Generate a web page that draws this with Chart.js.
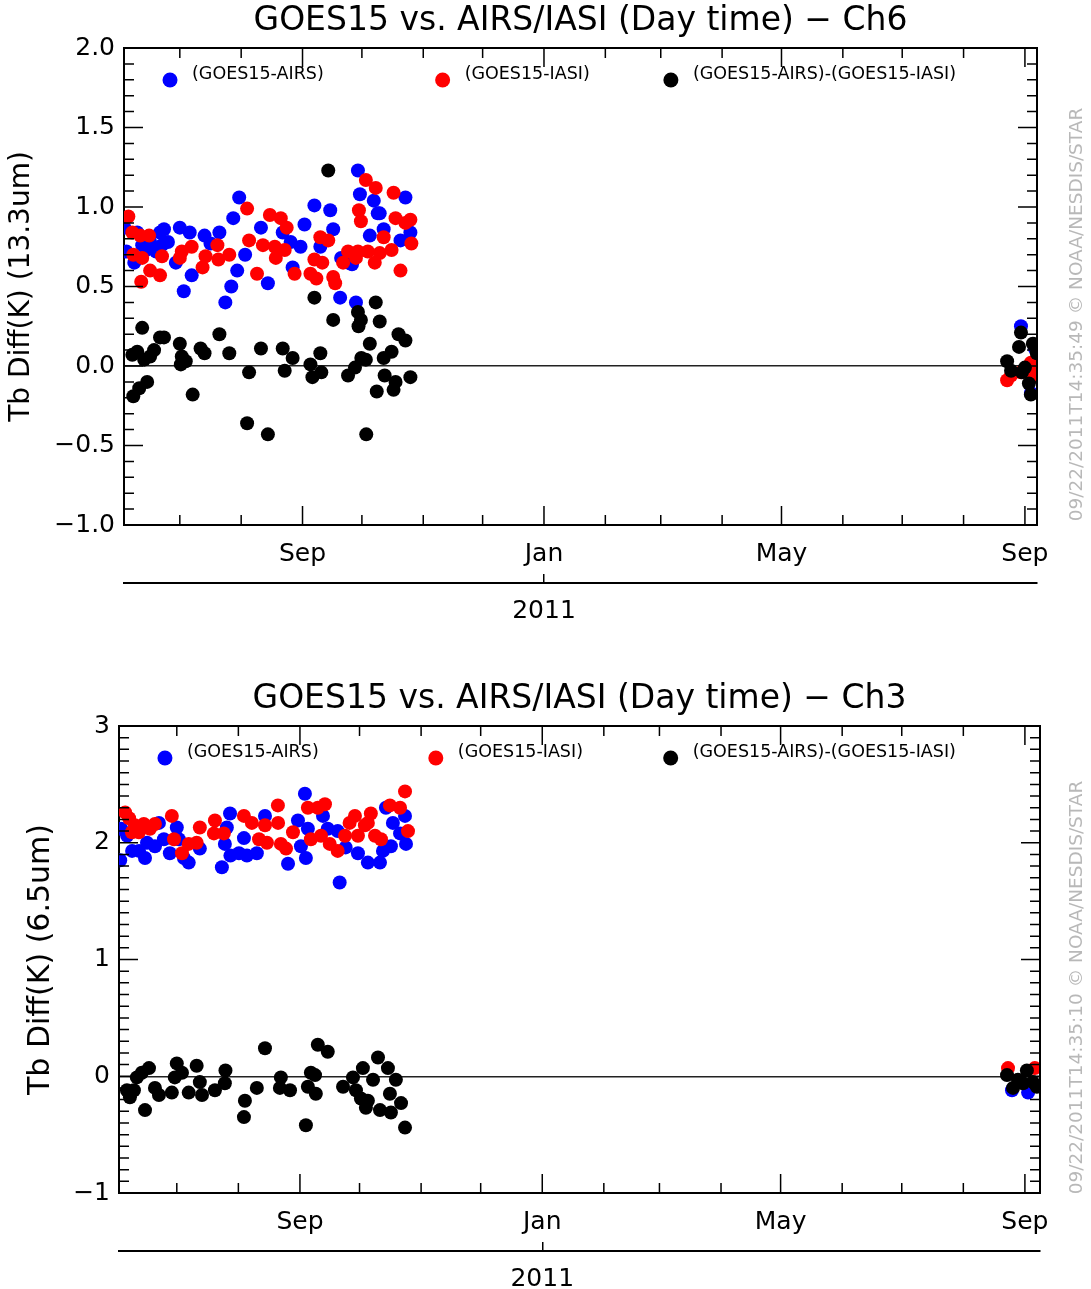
<!DOCTYPE html>
<html>
<head>
<meta charset="utf-8">
<title>GOES15 vs. AIRS/IASI</title>
<script src="https://cdn.jsdelivr.net/npm/chart.js@4.4.1/dist/chart.umd.min.js"></script>
<style>
  html, body { margin: 0; padding: 0; background: #fff; }
  .panel { position: relative; width: 1091px; }
  #top { height: 645px; }
  #bottom { height: 644px; }
</style>
</head>
<body>
<div class="panel" id="top"><canvas id="ch6"></canvas></div>
<div class="panel" id="bottom"><canvas id="ch3"></canvas></div>
<script>
// x values are days since 2010-06-01
const monthTicks = [30, 61, 92, 122, 153, 183, 214, 245, 273, 304, 334, 365, 395, 426, 457];
const monthLabels = ['', '', 'Sep', '', '', '', 'Jan', '', '', '', 'May', '', '', '', 'Sep'];
const yearTicks = [214];
const yearLabels = ['2011'];

const seriesNames = ['(GOES15-AIRS)', '(GOES15-IASI)', '(GOES15-AIRS)-(GOES15-IASI)'];

// Ch6 (13.3um)
const ch6TickValues = [-1, -0.5, 0, 0.5, 1, 1.5, 2];
const ch6TickLabels = ['\u22121.0', '\u22120.5', '0.0', '0.5', '1.0', '1.5', '2.0'];

const ch6AirsDay = [1, 2, 3, 7, 8.5, 11, 13, 15, 18, 20, 21, 22, 24, 28, 30, 32, 35, 36, 42.5, 45.5,
  50, 53, 56, 57, 59, 60, 63, 71, 74.5, 82, 86, 87, 91, 93, 98, 101, 106, 107.5, 111, 111.5,
  115, 117, 119, 120, 121, 126, 128, 130, 131, 133, 141.5, 144, 146.5, 455, 460, 462];
const ch6AirsTb = [0.88, 0.87, 0.72, 0.65, 0.84, 0.76, 0.73, 0.78, 0.72, 0.84, 0.76, 0.86, 0.78, 0.65, 0.87, 0.47, 0.84, 0.57, 0.82, 0.77,
  0.84, 0.40, 0.50, 0.93, 0.60, 1.06, 0.70, 0.87, 0.52, 0.84, 0.78, 0.62, 0.75, 0.89, 1.01, 0.75, 0.98, 0.86, 0.43, 0.68,
  0.65, 0.64, 0.40, 1.23, 1.08, 0.82, 1.04, 0.96, 0.96, 0.86, 0.79, 1.06, 0.84, 0.25, -0.17, 0.11];

const ch6IasiDay = [4, 6, 6.5, 10, 10.5, 11, 14.5, 15, 20, 21, 30, 31, 36, 41.5, 43, 49, 49.5, 55, 64, 65,
  69, 72, 75.5, 78, 78.5, 81, 83, 84, 88, 96, 98, 99, 101, 102, 105, 107.5, 108.5, 112.5, 115, 119,
  120, 120.5, 121.5, 124, 125, 128.5, 129, 131, 133, 137, 138, 139, 141.5, 144, 146.5, 147,
  448, 450, 455, 460, 461, 463];
const ch6IasiTb = [0.94, 0.84, 0.70, 0.82, 0.53, 0.68, 0.82, 0.60, 0.57, 0.69, 0.68, 0.72, 0.75, 0.62, 0.69, 0.76, 0.67, 0.70, 0.99, 0.79,
  0.58, 0.76, 0.95, 0.75, 0.68, 0.93, 0.73, 0.87, 0.58, 0.58, 0.67, 0.55, 0.81, 0.65, 0.79, 0.56, 0.52, 0.65, 0.72, 0.68,
  0.72, 0.98, 0.91, 1.17, 0.72, 0.65, 1.12, 0.71, 0.81, 0.73, 1.09, 0.93, 0.60, 0.90, 0.92, 0.77,
  -0.09, -0.06, -0.04, 0.02, -0.07, -0.01];

const ch6DiffDay = [6, 6.5, 8.5, 9.5, 11, 12, 13.5, 15, 17, 20, 22, 30, 30.5, 31, 33, 36.5, 40.5, 42.5, 50, 55,
  64, 65, 71, 74.5, 82, 83, 87, 96, 97, 98, 101, 101.5, 105, 107.5, 115, 118.5, 120, 120.3, 121.5, 121.7,
  124, 124.2, 126, 129, 129.5, 131, 133, 133.5, 137, 138, 139, 140.5, 144, 146.5,
  448, 450, 454, 455, 455.5, 457, 459, 460, 461, 463];
const ch6DiffTb = [0.07, -0.19, 0.09, -0.14, 0.24, 0.04, -0.10, 0.06, 0.10, 0.18, 0.18, 0.14, 0.01, 0.06, 0.03, -0.18, 0.11, 0.08, 0.20, 0.08,
  -0.36, -0.04, 0.11, -0.43, 0.11, -0.03, 0.05, 0.01, -0.07, 0.43, 0.08, -0.04, 1.23, 0.29, -0.06, -0.01, 0.34, 0.25, 0.29, 0.05,
  0.04, -0.43, 0.14, 0.40, -0.16, 0.28, 0.05, -0.06, 0.09, -0.15, -0.10, 0.20, 0.16, -0.07,
  0.03, -0.03, 0.12, 0.21, -0.04, -0.01, -0.11, -0.18, 0.14, 0.08];

// Ch3 (6.5um)
const ch3TickValues = [-1, 0, 1, 2, 3];
const ch3TickLabels = ['\u22121', '0', '1', '2', '3'];

const ch3AirsDay = [1.5, 2, 5, 7.5, 11, 14, 15, 19, 21, 23.5, 26.5, 30, 31, 33.6, 36, 41.6, 52.7, 54.2, 55.2, 56.8,
  57, 61.3, 63.8, 65.3, 70.3, 74.4, 86, 91, 92.5, 94.5, 95, 96, 103.6, 106, 111, 112, 115, 121.2, 126.2, 132.3,
  133.8, 135.3, 137.8, 138.8, 142.4, 144.9, 145.4, 450.5, 458.6];
const ch3AirsTb = [1.85, 2.12, 2.06, 1.93, 1.93, 1.87, 2.00, 1.97, 2.17, 2.03, 1.91, 2.13, 2.03, 1.87, 1.83, 1.95, 1.79, 1.99, 2.13, 2.25,
  1.89, 1.91, 2.04, 1.89, 1.91, 2.23, 1.82, 2.19, 1.97, 2.42, 1.87, 2.12, 2.23, 2.12, 2.10, 1.66, 1.96, 1.91, 1.83, 1.83,
  1.93, 2.30, 1.97, 2.17, 2.08, 2.23, 1.99, -0.12, -0.14];

const ch3IasiDay = [4, 6, 7.4, 8.9, 10.9, 13.4, 16.5, 19, 27.5, 28.6, 32.6, 36, 40, 41.6, 48.7, 49.2, 53.7, 63.8, 67.8, 71.4,
  74.4, 75.4, 80.9, 81, 82.4, 85, 88.5, 96, 97.5, 101, 102.6, 104.6, 107, 111, 114.7, 117, 119.7, 121.2, 124.7, 126.2,
  127.7, 129.8, 132.8, 137.3, 142.4, 144.9, 146.4, 448.5, 462];
const ch3IasiTb = [2.26, 2.21, 2.09, 2.15, 2.09, 2.16, 2.12, 2.16, 2.23, 2.03, 1.91, 1.99, 2.00, 2.13, 2.08, 2.19, 2.08, 2.23, 2.17, 2.03,
  2.15, 2.00, 2.32, 2.17, 1.99, 1.95, 2.09, 2.30, 2.03, 2.30, 2.06, 2.33, 1.99, 1.93, 2.06, 2.17, 2.23, 2.06, 2.15, 2.17,
  2.25, 2.06, 2.03, 2.32, 2.30, 2.44, 2.10, 0.07, 0.07];

const ch3DiffDay = [4.9, 6.4, 8.4, 9.9, 12.4, 14, 16, 19, 21, 27.5, 29, 30, 32.6, 36, 40, 41.6, 42.7, 49.2, 54.2, 54.5,
  63.8, 64.3, 70.3, 74.4, 81.9, 82.4, 87, 95, 96, 97.5, 99.6, 100, 101, 106, 113.7, 118.7, 120.2, 122.7, 123.7, 125.2,
  126.2, 128.8, 131.3, 132.3, 136.3, 137.3, 137.8, 140.3, 142.9, 144.9,
  448, 451, 453.5, 456, 458, 461, 463];
const ch3DiffTb = [-0.12, -0.18, -0.12, -0.01, 0.03, -0.29, 0.07, -0.10, -0.16, -0.14, -0.01, 0.11, 0.03, -0.14, 0.09, -0.05, -0.16, -0.12, -0.06, 0.05,
  -0.35, -0.21, -0.10, 0.24, -0.10, -0.01, -0.12, -0.42, -0.09, 0.03, 0.01, -0.15, 0.27, 0.21, -0.09, -0.01, -0.12, -0.19, 0.07, -0.27,
  -0.21, -0.03, 0.16, -0.29, 0.07, -0.15, -0.31, -0.03, -0.23, -0.44,
  0.01, -0.10, -0.03, -0.06, 0.05, -0.05, -0.09];

const seriesColors = ['#0000ff', '#ff0000', '#000000'];

Chart.defaults.font.family = "'DejaVu Sans', sans-serif";
Chart.defaults.color = '#000';

const toPoints = (days, vals) => days.map((d, i) => ({ x: d, y: vals[i] }));

// inward IDL style ticks on all four sides + top/right frame
const idlAxes = {
    id: 'idlAxes',
    afterDatasetsDraw(chart, args, opts) {
        const { ctx, chartArea: a } = chart;
        const x = chart.scales.x;
        const y = chart.scales.y;
        ctx.save();
        ctx.strokeStyle = '#000';
        ctx.lineWidth = 2;
        ctx.beginPath();
        ctx.moveTo(a.left, a.top);
        ctx.lineTo(a.right, a.top);
        ctx.lineTo(a.right, a.bottom);
        ctx.stroke();

        ctx.lineWidth = 1.5;
        ctx.beginPath();
        monthTicks.forEach((v, i) => {
            const px = x.getPixelForValue(v);
            const len = monthLabels[i] ? 19 : 10;
            ctx.moveTo(px, a.bottom);
            ctx.lineTo(px, a.bottom - len);
            ctx.moveTo(px, a.top);
            ctx.lineTo(px, a.top + len);
        });
        const n = Math.round((y.max - y.min) / opts.minor);
        const every = Math.round(opts.major / opts.minor);
        for (let i = 0; i <= n; i++) {
            const py = y.getPixelForValue(y.min + i * opts.minor);
            const len = i % every === 0 ? 19 : 10;
            ctx.moveTo(a.left, py);
            ctx.lineTo(a.left + len, py);
            ctx.moveTo(a.right, py);
            ctx.lineTo(a.right - len, py);
        }
        ctx.stroke();
        ctx.restore();
    }
};

// legend row inside the plot + the grey stamp on the right
const pointKey = {
    id: 'pointKey',
    afterDraw(chart, args, opts) {
        const { ctx, chartArea: a } = chart;
        ctx.save();
        ctx.font = "17.5px 'DejaVu Sans'";
        ctx.textBaseline = 'middle';
        ctx.textAlign = 'left';
        chart.data.datasets.forEach((ds, i) => {
            const px = a.left + opts.at[i] * a.width;
            ctx.fillStyle = ds.backgroundColor;
            ctx.beginPath();
            ctx.arc(px, a.top + 32, 7.5, 0, Math.PI * 2);
            ctx.fill();
            ctx.fillStyle = '#000';
            ctx.fillText(ds.label, px + 22, a.top + 26);
        });
        ctx.translate(a.right + opts.noteDx, (a.top + a.bottom) / 2 + 28);
        ctx.rotate(-Math.PI / 2);
        ctx.textAlign = 'center';
        ctx.fillStyle = '#b8b8b8';
        ctx.font = "18.5px 'DejaVu Sans'";
        ctx.fillText(opts.note, 0, 0);
        ctx.restore();
    }
};

function makeChart(id, cfg) {
    const data = [cfg.airs, cfg.iasi, cfg.diff];
    return new Chart(document.getElementById(id), {
        type: 'scatter',
        data: {
            datasets: data.map((pts, i) => ({
                label: seriesNames[i],
                data: pts,
                backgroundColor: seriesColors[i],
                borderWidth: 0,
                pointRadius: 7,
                pointHoverRadius: 7,
                order: 2 - i
            }))
        },
        options: {
            responsive: true,
            maintainAspectRatio: false,
            animation: false,
            layout: { padding: { top: cfg.padTop, right: cfg.padRight, left: 0, bottom: 0 } },
            plugins: {
                legend: { display: false },
                tooltip: { enabled: false },
                title: {
                    display: true,
                    text: cfg.title,
                    fullSize: false,
                    color: '#000',
                    font: { size: 33, weight: 'normal' },
                    padding: { top: 2, bottom: 6.4 }
                },
                idlAxes: { major: cfg.yMajor, minor: 0.1 },
                pointKey: { at: cfg.keyAt, note: cfg.note, noteDx: cfg.noteDx }
            },
            scales: {
                x: {
                    type: 'linear',
                    min: cfg.xMin,
                    max: cfg.xMax,
                    afterBuildTicks: s => { s.ticks = monthTicks.map(v => ({ value: v })); },
                    afterFit: s => { s.height = 58; },
                    ticks: {
                        autoSkip: false,
                        maxRotation: 0,
                        font: { size: 25 },
                        color: '#000',
                        padding: 14,
                        callback: (v, i) => monthLabels[i]
                    },
                    grid: { display: false, drawTicks: false },
                    border: { display: true, color: '#000', width: 2 }
                },
                xYear: {
                    type: 'linear',
                    position: 'bottom',
                    weight: 1,
                    min: cfg.xMin,
                    max: cfg.xMax,
                    afterBuildTicks: s => { s.ticks = yearTicks.map(v => ({ value: v })); },
                    afterFit: s => { s.height = cfg.yearHeight; },
                    ticks: {
                        autoSkip: false,
                        maxRotation: 0,
                        font: { size: 25 },
                        color: '#000',
                        padding: 22,
                        callback: (v, i) => yearLabels[i]
                    },
                    grid: { display: true, drawOnChartArea: false, drawTicks: true, tickLength: -9, color: '#000', lineWidth: 1.5 },
                    border: { display: true, color: '#000', width: 2 }
                },
                y: {
                    min: cfg.yMin,
                    max: cfg.yMax,
                    afterBuildTicks: s => { s.ticks = cfg.tickValues.map(v => ({ value: v })); },
                    afterFit: s => { s.width = cfg.yWidth; },
                    ticks: {
                        font: { size: 25 },
                        color: '#000',
                        padding: 9,
                        callback: (v, i) => cfg.tickLabels[i]
                    },
                    grid: {
                        drawTicks: false,
                        lineWidth: 1.5,
                        color: c => (c.tick && c.tick.value === 0 ? '#222' : 'rgba(0,0,0,0)')
                    },
                    border: { display: true, color: '#000', width: 2 },
                    title: {
                        display: true,
                        text: cfg.yTitle,
                        color: '#000',
                        font: { size: cfg.yTitleSize },
                        padding: { top: cfg.yTitlePad, bottom: 0 }
                    }
                }
            }
        },
        plugins: [idlAxes, pointKey]
    });
}

makeChart('ch6', {
    title: 'GOES15 vs. AIRS/IASI (Day time) \u2212 Ch6',
    yTitle: 'Tb Diff(K) (13.3um)',
    airs: toPoints(ch6AirsDay, ch6AirsTb),
    iasi: toPoints(ch6IasiDay, ch6IasiTb),
    diff: toPoints(ch6DiffDay, ch6DiffTb),
    tickValues: ch6TickValues,
    tickLabels: ch6TickLabels,
    yMin: -1, yMax: 2, yMajor: 0.5,
    xMin: 1.8, xMax: 463.1,
    yWidth: 124, yTitlePad: 5, yTitleSize: 28,
    padTop: 0, padRight: 54, yearHeight: 62,
    keyAt: [0.0504, 0.349, 0.599],
    note: '09/22/2011T14:35:49 \u00a9 NOAA/NESDIS/STAR',
    noteDx: 40
});

makeChart('ch3', {
    title: 'GOES15 vs. AIRS/IASI (Day time) \u2212 Ch3',
    yTitle: 'Tb Diff(K) (6.5um)',
    airs: toPoints(ch3AirsDay, ch3AirsTb),
    iasi: toPoints(ch3IasiDay, ch3IasiTb),
    diff: toPoints(ch3DiffDay, ch3DiffTb),
    tickValues: ch3TickValues,
    tickLabels: ch3TickLabels,
    yMin: -1, yMax: 3, yMajor: 1,
    xMin: 0.9, xMax: 464.6,
    yWidth: 119, yTitlePad: 23, yTitleSize: 30,
    padTop: 33, padRight: 51, yearHeight: 38,
    keyAt: [0.0499, 0.344, 0.599],
    note: '09/22/2011T14:35:10 \u00a9 NOAA/NESDIS/STAR',
    noteDx: 37
});
</script>
</body>
</html>
